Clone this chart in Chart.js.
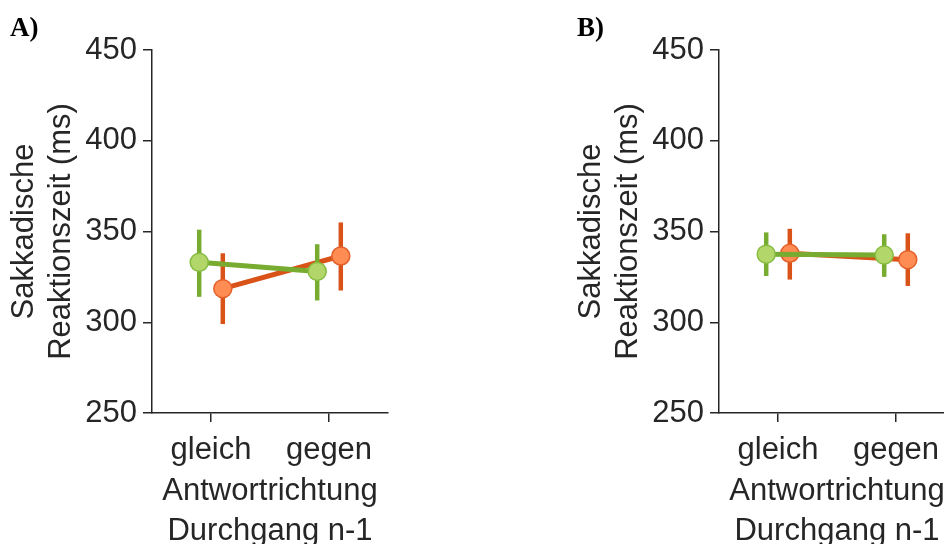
<!DOCTYPE html>
<html>
<head>
<meta charset="utf-8">
<script src="https://cdn.jsdelivr.net/npm/chart.js@4.4.1/dist/chart.umd.min.js"></script>
<style>
    html, body { margin: 0; padding: 0; background: #fff; overflow: hidden; }
    body { width: 944px; height: 544px; position: relative; }
    canvas { position: absolute; top: 0; }
    #chart-a { left: 0; }
    #chart-b { left: 567px; }
</style>
</head>
<body>
<canvas id="chart-a" width="472" height="560"></canvas>
<canvas id="chart-b" width="472" height="560"></canvas>
<script>
const categories = ['gleich', 'gegen'];
const categoryPos = [1, 2];
const yTicks = [250, 300, 350, 400, 450];

// Panel A
const aGreenMean = [333, 328];
const aGreenLow = [314, 312];
const aGreenHigh = [351, 343];
const aOrangeMean = [318.5, 336.5];
const aOrangeLow = [299, 317.5];
const aOrangeHigh = [338, 355];

// Panel B
const bGreenMean = [337.5, 337];
const bGreenLow = [325.5, 325];
const bGreenHigh = [349.5, 348.5];
const bOrangeMean = [338, 334.5];
const bOrangeLow = [323.5, 320];
const bOrangeHigh = [351.5, 349];

const textColor = '#262626';
const axisColor = '#262626';
const fontFamily = "'Liberation Sans', Arial, Helvetica, sans-serif";
const dodge = 0.1;

const green = { line: '#77AC30', fill: '#B3D66B', edge: '#86BC40' };
const orange = { line: '#D95319', fill: '#FF8C52', edge: '#E4602A' };

// Fehlerbalken unter jedem Datensatz zeichnen
const errorBarPlugin = {
    id: 'errorBars',
    beforeDatasetDraw(chart, args) {
        const ds = chart.data.datasets[args.index];
        if (!ds.errLow) return;
        const {ctx, scales: {x, y}} = chart;
        ctx.save();
        ctx.strokeStyle = ds.borderColor;
        ctx.lineWidth = 4.5;
        ds.data.forEach((p, i) => {
            const px = x.getPixelForValue(p.x);
            ctx.beginPath();
            ctx.moveTo(px, y.getPixelForValue(ds.errLow[i]));
            ctx.lineTo(px, y.getPixelForValue(ds.errHigh[i]));
            ctx.stroke();
        });
        ctx.restore();
    }
};

const panelLabelPlugin = {
    id: 'panelLabel',
    afterDraw(chart, args, opts) {
        const ctx = chart.ctx;
        ctx.save();
        ctx.font = "bold 27px 'Liberation Serif', 'Times New Roman', serif";
        ctx.fillStyle = '#000';
        ctx.textBaseline = 'alphabetic';
        ctx.fillText(opts.text, chart.chartArea.left - 142, 36);
        ctx.restore();
    }
};

const makeDataset = (mean, low, high, col, shift, order) => ({
    data: mean.map((v, i) => ({x: categoryPos[i] + shift, y: v})),
    errLow: low,
    errHigh: high,
    showLine: true,
    borderColor: col.line,
    borderWidth: 5,
    pointRadius: 9,
    pointBorderWidth: 1.5,
    pointBackgroundColor: col.fill,
    pointBorderColor: col.edge,
    order: order
});

const createOptions = (label) => ({
    responsive: false,
    animation: false,
    layout: { padding: { left: 0, top: 50, right: 84, bottom: 0 } },
    plugins: {
        legend: { display: false },
        tooltip: { enabled: false },
        panelLabel: { text: label }
    },
    scales: {
        x: {
            type: 'linear',
            min: 0.5,
            max: 2.5,
            afterBuildTicks: s => { s.ticks = categoryPos.map(v => ({value: v})); },
            afterFit: s => { s.height = 147; },
            grid: { drawOnChartArea: false, drawTicks: true, tickLength: 9, color: axisColor, lineWidth: 1.5 },
            border: { display: true, color: axisColor, width: 1.5 },
            ticks: {
                callback: v => categories[categoryPos.indexOf(v)],
                font: { family: fontFamily, size: 31 },
                color: textColor,
                padding: 10,
                maxRotation: 0,
                autoSkip: false
            },
            title: {
                display: true,
                text: ['Antwortrichtung', 'Durchgang n-1'],
                font: { family: fontFamily, size: 31, lineHeight: 1.29 },
                color: textColor,
                padding: { top: 0, bottom: 9 }
            }
        },
        y: {
            min: yTicks[0],
            max: yTicks[yTicks.length - 1],
            afterBuildTicks: s => { s.ticks = yTicks.map(v => ({value: v})); },
            afterFit: s => { s.width = 152; },
            grid: { drawOnChartArea: false, drawTicks: true, tickLength: 9, color: axisColor, lineWidth: 1.5 },
            border: { display: true, color: axisColor, width: 1.5 },
            ticks: {
                font: { family: fontFamily, size: 31 },
                color: textColor,
                padding: 6
            },
            title: {
                display: true,
                text: ['Sakkadische', 'Reaktionszeit (ms)'],
                font: { family: fontFamily, size: 31, lineHeight: 1.2 },
                color: textColor,
                padding: { top: 6, bottom: 0 }
            }
        }
    }
});

new Chart(document.getElementById('chart-a'), {
    type: 'scatter',
    data: {
        datasets: [
            makeDataset(aGreenMean, aGreenLow, aGreenHigh, green, -dodge, 0),
            makeDataset(aOrangeMean, aOrangeLow, aOrangeHigh, orange, dodge, 1)
        ]
    },
    options: createOptions('A)'),
    plugins: [errorBarPlugin, panelLabelPlugin]
});

new Chart(document.getElementById('chart-b'), {
    type: 'scatter',
    data: {
        datasets: [
            makeDataset(bGreenMean, bGreenLow, bGreenHigh, green, -dodge, 0),
            makeDataset(bOrangeMean, bOrangeLow, bOrangeHigh, orange, dodge, 1)
        ]
    },
    options: createOptions('B)'),
    plugins: [errorBarPlugin, panelLabelPlugin]
});
</script>
</body>
</html>
